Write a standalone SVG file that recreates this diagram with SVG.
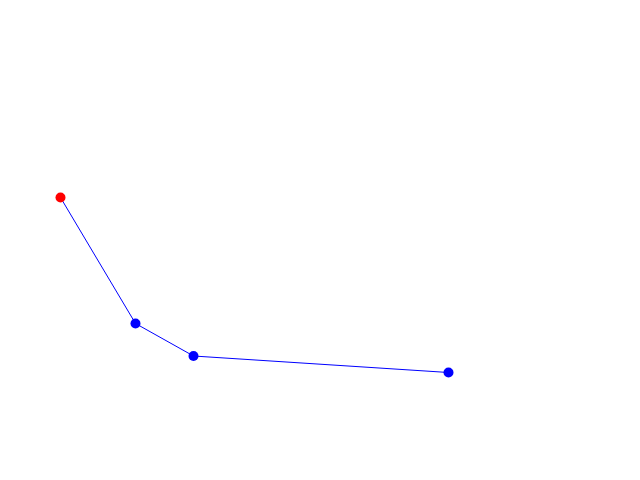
<svg xmlns="http://www.w3.org/2000/svg" width="640" height="480" viewBox="0 0 640 480">
<style>
.edge{stroke:#0000ff;stroke-width:1;fill:none}
.pt{fill:#0000ff}
.start{fill:#ff0000}
</style>
<rect width="640" height="480" fill="#ffffff"/>
<g id="connectors">
<polyline class="edge" points="60.5,197.5 135.5,323.5 193.5,356 448.5,372.5"/>
</g>
<g id="p0"><circle class="start" cx="60.5" cy="197.5" r="5"/></g>
<g id="p1"><circle class="pt" cx="135.5" cy="323.5" r="5"/></g>
<g id="p2"><circle class="pt" cx="193.5" cy="356" r="5"/></g>
<g id="p3"><circle class="pt" cx="448.5" cy="372.5" r="5"/></g>
</svg>
